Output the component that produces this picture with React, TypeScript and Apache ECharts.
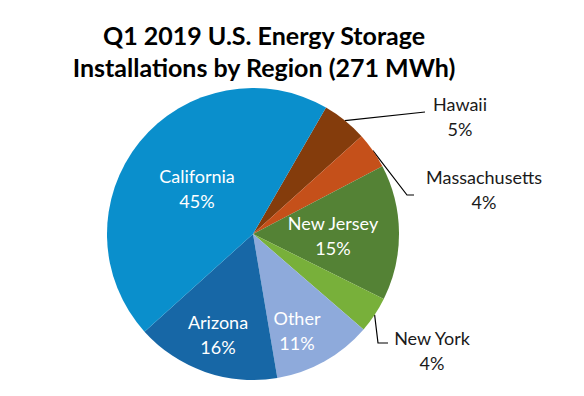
import React, { useEffect, useRef } from "react";
import * as echarts from "echarts";

const titleLines = ["Q1 2019 U.S. Energy Storage", "Installations by Region (271 MWh)"];
const regions = ["Hawaii", "Massachusetts", "New Jersey", "New York", "Other", "Arizona", "California"];
const shares = [5, 4, 15, 4, 11, 16, 45];
const colors = ["#843c0c", "#c5501a", "#548235", "#78b03a", "#8eaadb", "#1767a6", "#0a8fcc"];
const outsideRegions = ["Hawaii", "Massachusetts", "New York"];

// label placements (page pixels) and leader-line bends
const labelPos: Record<string, { x: number; y: number; bend?: number[][] }> = {
  California: { x: 197, y: 188 },
  Arizona: { x: 218, y: 334 },
  Other: { x: 297, y: 330 },
  "New Jersey": { x: 333, y: 235 },
  Hawaii: { x: 460, y: 116, bend: [[425, 112]] },
  Massachusetts: { x: 484, y: 189, bend: [[407, 195], [414, 195]] },
  "New York": { x: 432, y: 350, bend: [[378, 343], [388, 343]] },
};

export default function App() {
  const ref = useRef<HTMLDivElement>(null);
  useEffect(() => {
    if (!ref.current) return;
    const chart = echarts.init(ref.current, undefined, { renderer: "svg" });
    const data = regions.map((name, i) => {
      const outside = outsideRegions.includes(name);
      return {
        name,
        value: shares[i],
        itemStyle: { color: colors[i] },
        label: {
          position: outside ? "outside" : "inside",
          color: outside ? "#1a1a1a" : "#ffffff",
        },
        labelLine: { show: outside },
      };
    });
    chart.setOption({
      animation: false,
      backgroundColor: "#ffffff",
      title: {
        text: titleLines.join("\n"),
        left: 259,
        top: 14,
        textAlign: "center",
        textStyle: {
          fontFamily: "Lato",
          fontWeight: "bold",
          fontSize: 25,
          lineHeight: 32,
          color: "#000000",
        },
      },
      series: [
        {
          type: "pie",
          center: [253, 234],
          radius: 146,
          startAngle: 60,
          clockwise: true,
          avoidLabelOverlap: false,
          itemStyle: { borderWidth: 0 },
          label: {
            show: true,
            fontFamily: "Lato",
            fontSize: 18,
            lineHeight: 25,
            formatter: (p: any) => `${p.name}\n${p.value}%`,
          },
          labelLine: {
            show: true,
            lineStyle: { color: "#000000", width: 1.2 },
          },
          labelLayout: (params: any) => {
            const name = regions[params.dataIndex];
            const pos = labelPos[name];
            const out: any = { x: pos.x, y: pos.y, align: "center", verticalAlign: "middle" };
            if (pos.bend && params.labelLinePoints) {
              const anchor = params.labelLinePoints[0];
              out.labelLinePoints = [anchor, ...pos.bend];
            }
            return out;
          },
          data,
        },
      ],
    });
    return () => chart.dispose();
  }, []);
  return (
    <div
      ref={ref}
      style={{ position: "fixed", left: 0, top: 0, width: 584, height: 396 }}
    />
  );
}
